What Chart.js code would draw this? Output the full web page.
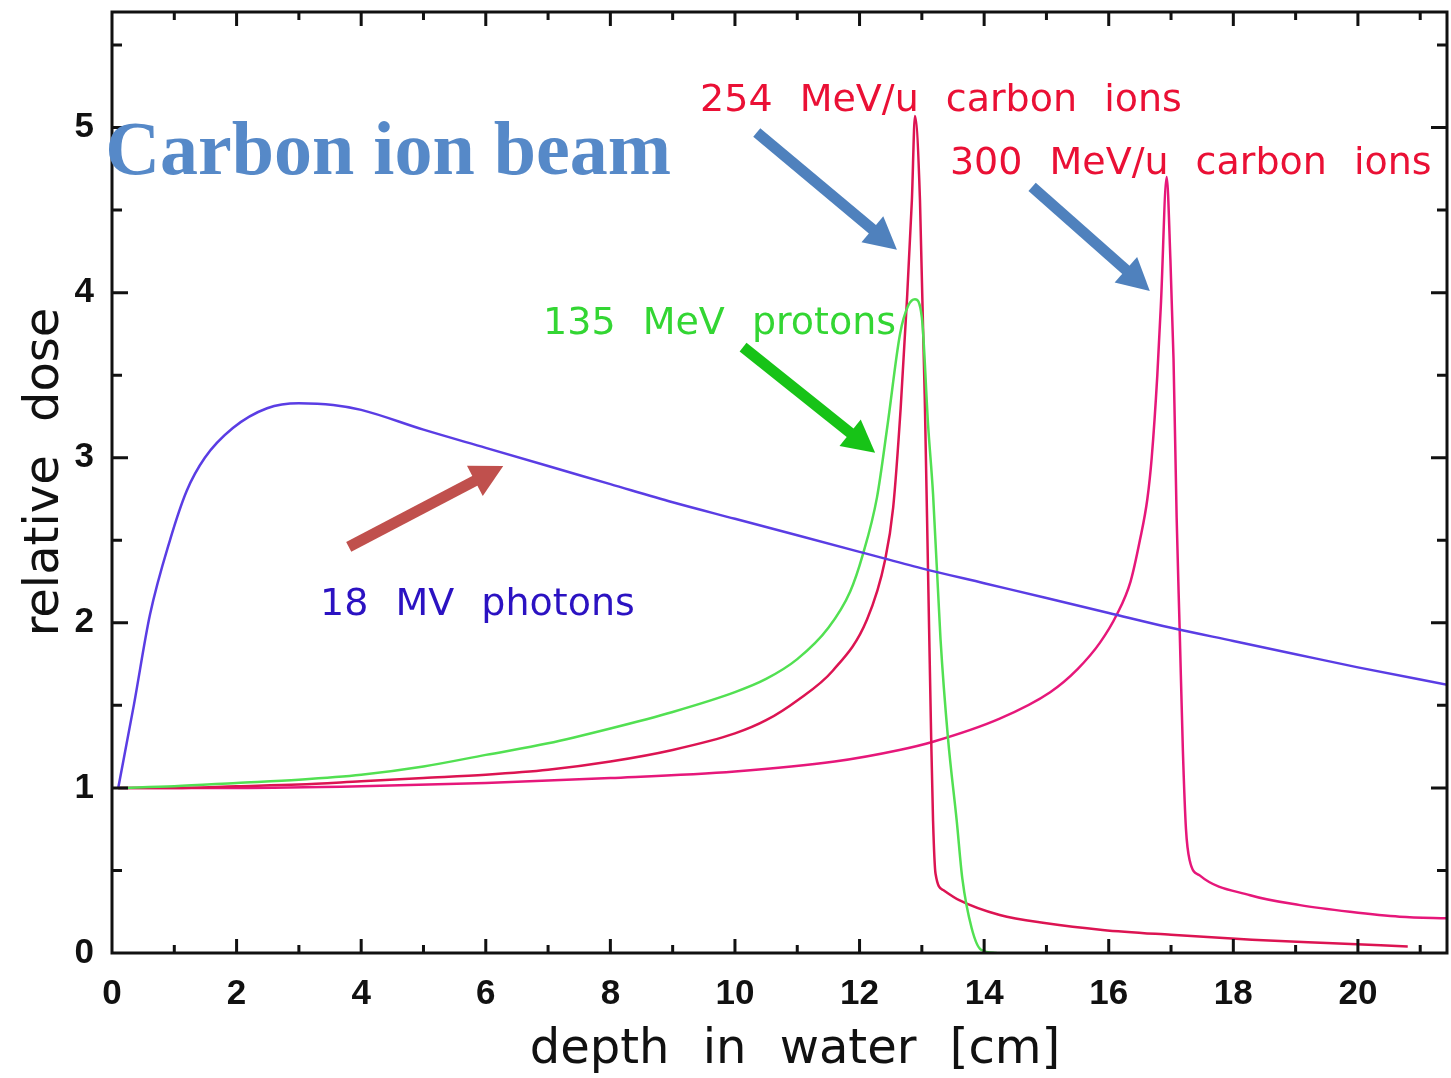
<!DOCTYPE html>
<html>
<head>
<meta charset="utf-8">
<script src="https://cdn.jsdelivr.net/npm/chart.js@4.4.1/dist/chart.umd.min.js"></script>
<style>
  html, body { margin: 0; padding: 0; background: #fff; }
  #wrap { width: 1451px; height: 1078px; }
</style>
</head>
<body>
<div id="wrap"><canvas id="dose"></canvas></div>
<script>
"use strict";

// depth-dose curves, depth in cm of water, dose relative to entrance
const photonDepth = [0.1, 0.35, 0.61, 0.93, 1.2, 1.49, 1.94, 2.49, 3.0, 3.55, 4.0, 5.0, 6.0, 7.0, 8.0, 9.0, 10.0, 11.0, 12.0, 13.0, 14.0, 15.0, 16.0, 17.0, 18.0, 19.0, 20.0, 21.5];
const photonDose  = [1.0, 1.5, 2.05, 2.5, 2.8, 3.0, 3.18, 3.30, 3.33, 3.32, 3.29, 3.17, 3.06, 2.95, 2.84, 2.73, 2.63, 2.53, 2.43, 2.33, 2.24, 2.15, 2.06, 1.97, 1.89, 1.81, 1.73, 1.62];

const protonDepth = [0.1, 1.0, 2.0, 3.0, 4.0, 5.0, 6.0, 7.0, 8.0, 9.0, 10.0, 10.5, 11.0, 11.5, 11.85, 12.05, 12.28, 12.45, 12.65, 12.78, 12.89, 13.0, 13.1, 13.18, 13.3, 13.42, 13.56, 13.65, 13.8, 13.95, 14.2];
const protonDose  = [1.0, 1.01, 1.03, 1.05, 1.08, 1.13, 1.2, 1.27, 1.36, 1.46, 1.58, 1.66, 1.78, 1.97, 2.19, 2.41, 2.76, 3.2, 3.75, 3.92, 3.96, 3.85, 3.2, 2.78, 1.9, 1.3, 0.8, 0.45, 0.15, 0.02, 0.0];

const carbon254Depth = [0.1, 1.0, 2.0, 3.0, 4.0, 5.0, 6.0, 7.0, 8.0, 9.0, 10.0, 10.5, 11.0, 11.57, 12.12, 12.41, 12.54, 12.66, 12.76, 12.84, 12.89, 12.97, 13.05, 13.1, 13.15, 13.18, 13.22, 13.35, 13.6, 14.25, 15.0, 15.9, 17.0, 18.3, 19.5, 20.8];
const carbon254Dose  = [1.0, 1.0, 1.01, 1.02, 1.04, 1.06, 1.08, 1.11, 1.16, 1.23, 1.33, 1.41, 1.53, 1.71, 2.02, 2.38, 2.70, 3.3, 3.95, 4.56, 5.07, 4.56, 3.3, 2.3, 1.3, 0.8, 0.48, 0.38, 0.32, 0.23, 0.18, 0.14, 0.11, 0.08, 0.06, 0.04];

const carbon300Depth = [0.1, 2.0, 4.0, 6.0, 8.0, 10.0, 11.6, 12.64, 13.18, 14.25, 15.06, 15.5, 15.86, 16.13, 16.35, 16.5, 16.62, 16.69, 16.78, 16.84, 16.93, 16.99, 17.04, 17.09, 17.14, 17.19, 17.24, 17.3, 17.46, 18.27, 19.07, 19.87, 20.67, 21.48];
const carbon300Dose  = [1.0, 1.0, 1.01, 1.03, 1.06, 1.1, 1.16, 1.23, 1.28, 1.42, 1.58, 1.72, 1.88, 2.05, 2.25, 2.5, 2.75, 3.0, 3.5, 3.95, 4.70, 4.2, 3.6, 2.64, 1.94, 1.23, 0.75, 0.56, 0.47, 0.35, 0.29, 0.25, 0.22, 0.21];

// axis ranges and ticks
const X_MAX = 21.43;
const Y_MAX = 5.70;
const xTickValues = [0, 2, 4, 6, 8, 10, 12, 14, 16, 18, 20];
const yTickValues = [0, 1, 2, 3, 4, 5];
const xMinorStep = 1;
const yMinorStep = 0.5;

const toPoints = (xs, ys) => xs.map((x, i) => ({ x: x, y: ys[i] }));

// curve labels and pointer arrows, in data coordinates
const curveLabels = [
  { text: '254 MeV/u carbon ions', x: 9.44, y: 5.10, color: '#ea1035' },
  { text: '300 MeV/u carbon ions', x: 13.45, y: 4.72, color: '#ea1035' },
  { text: '135 MeV protons', x: 6.92, y: 3.75, color: '#33d633' },
  { text: '18 MV photons', x: 3.34, y: 2.05, color: '#2b12c2' }
];
const arrows = [
  { from: [10.35, 4.97], to: [12.6, 4.26], color: '#4f81bd' },
  { from: [14.77, 4.64], to: [16.66, 4.01], color: '#4f81bd' },
  { from: [10.13, 3.67], to: [12.25, 3.03], color: '#17c317' },
  { from: [3.8, 2.46], to: [6.28, 2.95], color: '#c0504d' }
];

const drawArrow = (ctx, x0, y0, x1, y1, color) => {
  const ang = Math.atan2(y1 - y0, x1 - x0);
  const headLen = 32, headHalf = 17;
  const bx = x1 - headLen * Math.cos(ang);
  const by = y1 - headLen * Math.sin(ang);
  ctx.strokeStyle = color;
  ctx.fillStyle = color;
  ctx.lineWidth = 11;
  ctx.lineCap = 'butt';
  ctx.beginPath();
  ctx.moveTo(x0, y0);
  ctx.lineTo(bx + 2 * Math.cos(ang), by + 2 * Math.sin(ang));
  ctx.stroke();
  ctx.beginPath();
  ctx.moveTo(x1, y1);
  ctx.lineTo(bx - headHalf * Math.sin(ang), by + headHalf * Math.cos(ang));
  ctx.lineTo(bx + headHalf * Math.sin(ang), by - headHalf * Math.cos(ang));
  ctx.closePath();
  ctx.fill();
};

const overlay = {
  id: 'overlay',
  afterDatasetsDraw(chart) {
    const { ctx, chartArea: a, scales: { x, y } } = chart;
    ctx.save();

    // frame with inward ticks on all four sides
    ctx.strokeStyle = '#111';
    ctx.lineWidth = 3;
    ctx.strokeRect(a.left, a.top, a.right - a.left, a.bottom - a.top);
    ctx.beginPath();
    for (let v = xMinorStep; v < X_MAX; v += xMinorStep) {
      const px = x.getPixelForValue(v);
      const len = v % 2 === 0 ? 14 : 8;
      ctx.moveTo(px, a.bottom); ctx.lineTo(px, a.bottom - len);
      ctx.moveTo(px, a.top); ctx.lineTo(px, a.top + len);
    }
    for (let v = yMinorStep; v < Y_MAX; v += yMinorStep) {
      const py = y.getPixelForValue(v);
      const len = v % 1 === 0 ? 16 : 10;
      ctx.moveTo(a.left, py); ctx.lineTo(a.left + len, py);
      ctx.moveTo(a.right, py); ctx.lineTo(a.right - len, py);
    }
    ctx.stroke();

    // axis titles
    ctx.fillStyle = '#111';
    ctx.font = '48px "DejaVu Sans"';
    ctx.wordSpacing = '18px';
    ctx.textAlign = 'center';
    ctx.textBaseline = 'alphabetic';
    ctx.fillText('depth in water [cm]', 795, 1063);
    ctx.save();
    ctx.translate(58, 472);
    ctx.rotate(-Math.PI / 2);
    ctx.fillText('relative dose', 0, 0);
    ctx.restore();

    // heading
    ctx.textAlign = 'left';
    ctx.wordSpacing = '0px';
    ctx.font = 'bold 76px "Liberation Serif"';
    ctx.fillStyle = '#5689c8';
    ctx.fillText('Carbon ion beam', x.getPixelForValue(-0.11), y.getPixelForValue(4.72));

    // curve labels
    ctx.font = '38px "DejaVu Sans"';
    ctx.wordSpacing = '15px';
    curveLabels.forEach(l => {
      ctx.fillStyle = l.color;
      ctx.fillText(l.text, x.getPixelForValue(l.x), y.getPixelForValue(l.y));
    });

    arrows.forEach(r => {
      drawArrow(ctx,
        x.getPixelForValue(r.from[0]), y.getPixelForValue(r.from[1]),
        x.getPixelForValue(r.to[0]), y.getPixelForValue(r.to[1]),
        r.color);
    });
    ctx.restore();
  }
};

const lineStyle = { pointRadius: 0, borderWidth: 2.5, fill: false, cubicInterpolationMode: 'monotone' };
const tickFont = { family: '"Liberation Sans"', size: 35, weight: 'bold' };

new Chart(document.getElementById('dose'), {
  type: 'line',
  data: {
    datasets: [
      Object.assign({ label: '18 MV photons', data: toPoints(photonDepth, photonDose), borderColor: '#5a3de4' }, lineStyle),
      Object.assign({ label: '135 MeV protons', data: toPoints(protonDepth, protonDose), borderColor: '#52e052' }, lineStyle),
      Object.assign({ label: '254 MeV/u carbon ions', data: toPoints(carbon254Depth, carbon254Dose), borderColor: '#dc1452' }, lineStyle),
      Object.assign({ label: '300 MeV/u carbon ions', data: toPoints(carbon300Depth, carbon300Dose), borderColor: '#e6177a' }, lineStyle)
    ]
  },
  options: {
    responsive: true,
    maintainAspectRatio: false,
    animation: false,
    layout: { padding: { top: 12, right: 4, left: 0, bottom: 0 } },
    plugins: { legend: { display: false }, tooltip: { enabled: false } },
    scales: {
      x: {
        type: 'linear',
        min: 0,
        max: X_MAX,
        afterBuildTicks: s => { s.ticks = xTickValues.map(v => ({ value: v })); },
        afterFit: s => { s.height = 125; s.paddingLeft = 0; s.paddingRight = 0; },
        grid: { display: false, drawTicks: false },
        border: { display: false },
        ticks: { color: '#111', padding: 20, maxRotation: 0, font: tickFont }
      },
      y: {
        type: 'linear',
        min: 0,
        max: Y_MAX,
        afterBuildTicks: s => { s.ticks = yTickValues.map(v => ({ value: v })); },
        afterFit: s => { s.width = 112; s.paddingTop = 0; s.paddingBottom = 0; },
        grid: { display: false, drawTicks: false },
        border: { display: false },
        ticks: { color: '#111', padding: 18, font: tickFont }
      }
    }
  },
  plugins: [overlay]
});
</script>
</body>
</html>
